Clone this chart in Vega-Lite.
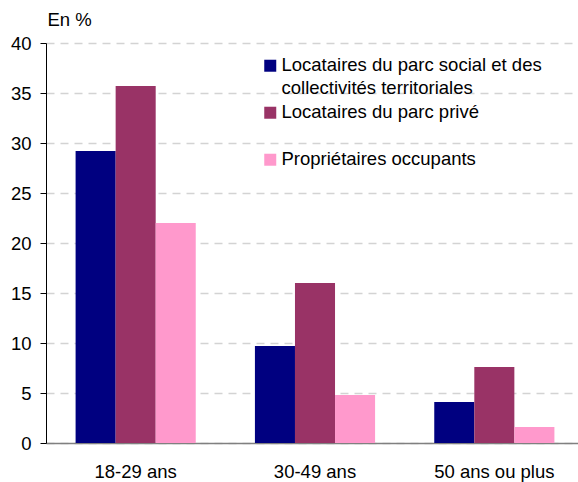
{
  "$schema": "https://vega.github.io/schema/vega-lite/v6.json",
  "width": 538,
  "height": 400,
  "autosize": {"type": "none"},
  "padding": {"left": 46, "top": 43, "right": 0, "bottom": 39},
  "background": "white",
  "config": {"view": {"stroke": null}, "font": "Liberation Sans"},
  "data": {
    "values": [
      {"age": "18-29 ans", "statut": "Locataires du parc social et des collectivités territoriales", "valeur": 29.2},
      {"age": "18-29 ans", "statut": "Locataires du parc privé", "valeur": 35.7},
      {"age": "18-29 ans", "statut": "Propriétaires occupants", "valeur": 22.0},
      {"age": "30-49 ans", "statut": "Locataires du parc social et des collectivités territoriales", "valeur": 9.7},
      {"age": "30-49 ans", "statut": "Locataires du parc privé", "valeur": 16.0},
      {"age": "30-49 ans", "statut": "Propriétaires occupants", "valeur": 4.8},
      {"age": "50 ans ou plus", "statut": "Locataires du parc social et des collectivités territoriales", "valeur": 4.1},
      {"age": "50 ans ou plus", "statut": "Locataires du parc privé", "valeur": 7.6},
      {"age": "50 ans ou plus", "statut": "Propriétaires occupants", "valeur": 1.6}
    ]
  },
  "mark": {"type": "bar"},
  "encoding": {
    "x": {
      "field": "age", "type": "nominal",
      "sort": ["18-29 ans", "30-49 ans", "50 ans ou plus"],
      "scale": {"paddingInner": 0.33, "paddingOuter": 0.165},
      "axis": {"title": null, "labelAngle": 0, "ticks": false, "labelFontSize": 18.5, "labelPadding": 19, "domainColor": "#808080", "domainWidth": 1.5, "labelColor": "#000", "grid": false}
    },
    "xOffset": {
      "field": "statut", "type": "nominal",
      "sort": ["Locataires du parc social et des collectivités territoriales", "Locataires du parc privé", "Propriétaires occupants"],
      "scale": {"paddingInner": 0, "paddingOuter": 0}
    },
    "y": {
      "field": "valeur", "type": "quantitative",
      "scale": {"domain": [0, 40], "nice": false},
      "axis": {
        "values": [0, 5, 10, 15, 20, 25, 30, 35, 40],
        "title": "En %", "titleAngle": 0, "titleX": 1, "titleY": -18, "titleAlign": "left", "titleBaseline": "alphabetic",
        "titleFontSize": 18.5, "titleFontWeight": "normal", "titleColor": "#000",
        "labelFontSize": 18.5, "labelPadding": 9, "labelColor": "#000", "tickSize": 6, "tickColor": "#000", "domainColor": "#000",
        "gridColor": "#d3d3d3", "gridDash": [8, 6], "gridWidth": 1.5
      }
    },
    "color": {
      "field": "statut", "type": "nominal",
      "sort": ["Locataires du parc social et des collectivités territoriales", "Locataires du parc privé", "Propriétaires occupants"],
      "scale": {"range": ["#000080", "#993366", "#FF99CC"]},
      "legend": {
        "orient": "none", "legendX": 215, "legendY": 19, "title": null,
        "symbolType": "M-1,-1.92H1V0.08H-1Z", "symbolSize": 144, "symbolStrokeWidth": 0, "symbolOpacity": 1,
        "labelFontSize": 18.5, "labelBaseline": "alphabetic", "labelOffset": 2, "labelLimit": 400, "labelColor": "#000",
        "rowPadding": 5,
        "labelExpr": "datum.label == 'Locataires du parc social et des collectivités territoriales' ? ['Locataires du parc social et des', 'collectivités territoriales'] : datum.label == 'Locataires du parc privé' ? ['Locataires du parc privé', ''] : datum.label",
        "encode": {"labels": {"update": {"lineHeight": {"value": 23}}}}
      }
    }
  }
}
